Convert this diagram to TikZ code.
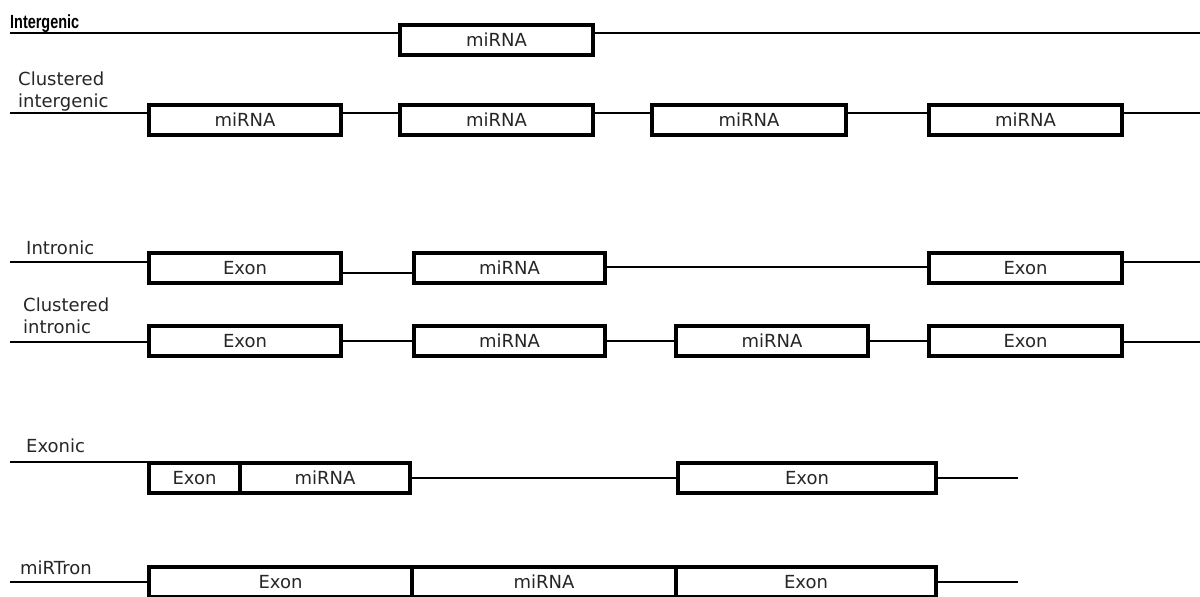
\documentclass[tikz,border=0pt]{standalone}
\usepackage{fontspec}
\setmainfont{DejaVu Sans}
\newfontfamily\labbold{Liberation Sans Bold}[FakeStretch=0.76]
\tikzset{
  bx/.style={draw, rectangle, line width=4pt, inner sep=0pt, outer sep=0pt,
    minimum height=30pt, fill=white, text=black!85,
    font=\fontsize{18}{21}\selectfont},
  lbl/.style={anchor=base west, inner sep=0pt, text=black!85,
    font=\fontsize{18}{21}\selectfont},
  boldlbl/.style={anchor=base west, inner sep=0pt, text=black,
    font={\labbold\fontsize{19}{22}\selectfont}},
  gline/.style={line width=2pt},
}
\begin{document}
\begin{tikzpicture}[x=1pt,y=-1pt]
\useasboundingbox (0,0) rectangle (1200,597);
\clip (0,0) rectangle (1200,597);
% labels
\node[boldlbl] (l1) at (10,28) {Intergenic};
\node[lbl] (l2a) at (18,85) {Clustered};
\node[lbl] (l2b) at (18,107) {intergenic};
\node[lbl] (l3) at (26,254) {Intronic};
\node[lbl] (l4a) at (23,311) {Clustered};
\node[lbl] (l4b) at (23,333) {intronic};
\node[lbl] (l5) at (26,452) {Exonic};
\node[lbl] (l6) at (20,574) {miRTron};
% row 1
\coordinate (s1) at (10,33);
\coordinate (e1) at (1200,33);
\node[bx, minimum width=193pt] (b11) at (496.5,40) {miRNA};
\draw[gline] (s1) -- (b11.west |- s1);
\draw[gline] (b11.east |- e1) -- (e1);
% row 2
\coordinate (s2) at (10,113);
\coordinate (e2) at (1200,113);
\node[bx, minimum width=192pt] (b21) at (245,119.5) {miRNA};
\node[bx, minimum width=193pt] (b22) at (496.5,119.5) {miRNA};
\node[bx, minimum width=194pt] (b23) at (749,119.5) {miRNA};
\node[bx, minimum width=193pt] (b24) at (1025.5,119.5) {miRNA};
\draw[gline] (s2) -- (b21.west |- s2);
\draw[gline] ([yshift=6.5pt]b21.east) -- ([yshift=6.5pt]b22.west);
\draw[gline] ([yshift=6.5pt]b22.east) -- ([yshift=6.5pt]b23.west);
\draw[gline] ([yshift=6.5pt]b23.east) -- ([yshift=6.5pt]b24.west);
\draw[gline] (b24.east |- e2) -- (e2);
% row 3
\coordinate (s3) at (10,262);
\coordinate (e3) at (1200,262);
\node[bx, minimum width=192pt] (b31) at (245,268) {Exon};
\node[bx, minimum width=191pt] (b32) at (509.5,268) {miRNA};
\node[bx, minimum width=193pt] (b33) at (1025.5,268) {Exon};
\draw[gline] (s3) -- (b31.west |- s3);
\draw[gline] ([yshift=-5pt]b31.east) -- ([yshift=-5pt]b32.west);
\draw[gline] ([yshift=1pt]b32.east) -- ([yshift=1pt]b33.west);
\draw[gline] (b33.east |- e3) -- (e3);
% row 4
\coordinate (s4) at (10,341.5);
\coordinate (e4) at (1200,341.5);
\node[bx, minimum width=192pt] (b41) at (245,341) {Exon};
\node[bx, minimum width=191pt] (b42) at (509.5,341) {miRNA};
\node[bx, minimum width=192pt] (b43) at (772,341) {miRNA};
\node[bx, minimum width=193pt] (b44) at (1025.5,341) {Exon};
\draw[gline] (s4) -- (b41.west |- s4);
\draw[gline] (b41) -- (b42);
\draw[gline] (b42) -- (b43);
\draw[gline] (b43) -- (b44);
\draw[gline] (b44.east |- e4) -- (e4);
% row 5
\coordinate (s5) at (10,462);
\coordinate (e5) at (1018,478);
\node[bx, minimum width=91pt] (b51) at (194.5,478) {Exon};
\node[bx, minimum width=170pt] (b52) at (325,478) {miRNA};
\node[bx, minimum width=258pt] (b53) at (807,478) {Exon};
\draw[gline] (s5) -- (b51.west |- s5);
\draw[gline] (b52) -- (b53);
\draw[gline] (b53.east |- e5) -- (e5);
% row 6
\coordinate (s6) at (10,582);
\coordinate (e6) at (1018,582);
\node[bx, minimum width=263pt] (b61) at (280.5,582) {Exon};
\node[bx, minimum width=264pt] (b62) at (544,582) {miRNA};
\node[bx, minimum width=260pt] (b63) at (806,582) {Exon};
\draw[gline] (s6) -- (b61.west |- s6);
\draw[gline] (b63.east |- e6) -- (e6);
\end{tikzpicture}
\end{document}
